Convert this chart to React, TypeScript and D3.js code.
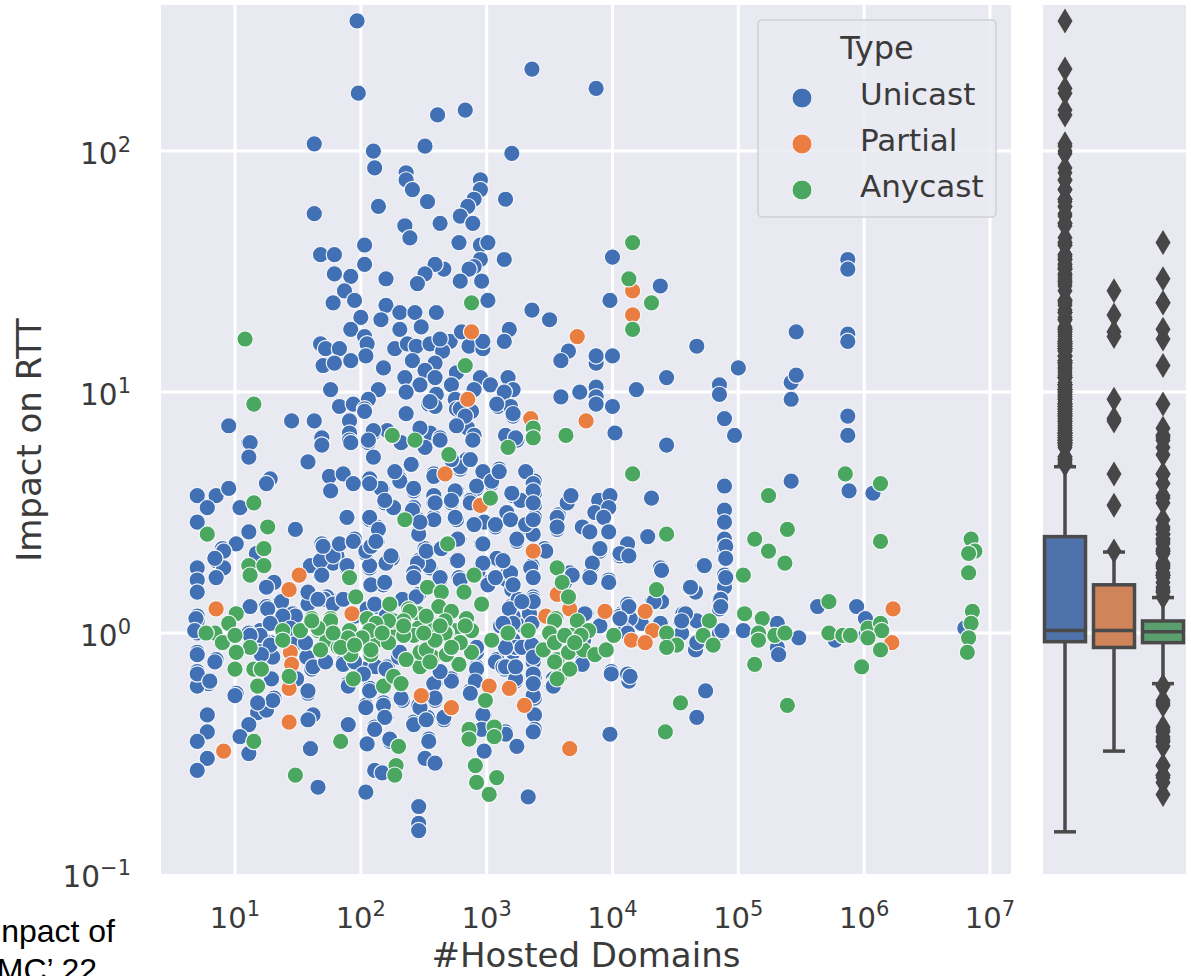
import React, { useEffect, useRef } from 'react';
import * as d3 from 'd3';

// every point is [log10(#hosted domains), log10(impact on RTT)]
const unicast: number[][] = [
  [1.97,2.54],[1.98,2.24],[3.36,2.34],[3.87,2.26],[2.61,2.15],[2.83,2.17],[1.63,2.03],[2.10,2.00],[2.51,2.02],[3.20,1.99],
  [2.11,1.93],[2.36,1.91],[2.36,1.88],[2.41,1.84],[2.95,1.88],[2.95,1.84],[2.90,1.80],[3.15,1.80],[2.53,1.79],[2.14,1.77],
  [1.63,1.74],[2.85,1.77],[2.79,1.73],[2.89,1.70],[2.63,1.70],[2.35,1.69],[2.39,1.64],[2.78,1.62],[2.95,1.61],[3.01,1.62],
  [2.03,1.61],[1.68,1.57],[1.79,1.57],[2.03,1.53],[3.14,1.55],[2.95,1.55],[2.90,1.52],[2.86,1.51],[2.66,1.51],[2.59,1.53],
  [2.51,1.49],[2.45,1.45],[2.20,1.47],[1.79,1.49],[1.92,1.48],[1.87,1.42],[2.79,1.46],[2.96,1.46],[1.78,1.37],[1.95,1.38],
  [3.01,1.38],[2.20,1.36],[2.16,1.30],[2.00,1.31],[2.31,1.33],[2.43,1.33],[2.60,1.33],[3.36,1.34],[3.50,1.30],[1.92,1.26],
  [2.31,1.26],[2.48,1.27],[2.03,1.23],[2.05,1.20],[2.04,1.15],[1.68,1.20],[1.72,1.18],[1.83,1.18],[1.70,1.11],[1.79,1.12],
  [1.92,1.13],[2.27,1.18],[2.37,1.20],[2.44,1.19],[2.55,1.20],[2.71,1.21],[2.65,1.17],[2.63,1.22],[2.80,1.25],[2.86,1.19],
  [2.97,1.18],[2.97,1.21],[3.18,1.26],[3.14,1.21],[2.41,1.13],[2.59,1.12],[2.51,1.09],[2.18,1.10],[2.76,1.08],[2.95,1.06],
  [2.59,1.06],[2.35,1.06],[3.17,1.06],[2.47,1.03],[2.72,1.03],[3.03,1.03],[3.21,1.01],[3.14,1.00],[2.90,1.01],[2.36,1.00],
  [2.14,1.01],[1.76,1.01],[2.60,0.99],[2.54,0.95],[2.59,0.94],[2.75,0.97],[2.06,0.97],[1.83,0.94],[1.94,0.95],[2.03,0.93],
  [2.76,0.93],[2.88,0.92],[3.09,0.94],[3.19,0.94],[3.21,0.90],[2.82,0.89],[2.78,0.87],[2.85,0.85],[2.90,0.82],[2.36,0.91],
  [1.91,0.88],[1.63,0.88],[1.45,0.88],[0.95,0.86],[1.91,0.83],[1.69,0.81],[1.11,0.79],[2.10,0.83],[2.21,0.84],[2.47,0.83],
  [2.55,0.83],[2.63,0.81],[3.15,0.82],[3.24,0.80],[1.91,0.80],[3.59,0.98],[3.74,1.00],[3.87,1.02],[3.87,0.98],[3.87,0.95],
  [4.00,0.94],[4.02,0.83],[3.87,1.12],[3.87,1.15],[4.00,1.15],[3.65,1.17],[3.59,1.13],[4.00,1.56],[3.98,1.38],[4.38,1.44],
  [4.67,1.19],[4.43,1.06],[4.19,1.01],[5.00,1.10],[4.85,1.03],[4.85,0.99],[4.89,0.89],[4.97,0.82],[5.46,1.25],[5.42,1.04],
  [5.46,1.07],[5.42,0.97],[5.87,1.55],[5.87,1.51],[5.87,1.24],[5.87,1.21],[5.87,0.90],[5.87,0.82],[4.43,0.78],[4.31,0.56],
  [4.89,0.61],[5.42,0.63],[4.89,0.51],[4.89,0.46],[4.89,0.39],[4.89,0.35],[4.89,0.31],[4.89,0.24],[4.89,0.19],[4.85,0.14],
  [4.85,0.10],[5.88,0.59],[6.07,0.58],[4.28,0.40],[4.12,0.37],[4.12,0.32],[4.07,0.32],[4.72,0.28],[4.38,0.27],[4.61,0.19],
  [4.66,0.17],[4.32,0.13],[4.39,0.13],[4.12,0.12],[5.63,0.11],[5.94,0.11],[6.01,0.06],[4.56,0.08],[4.54,0.05],[4.55,0.00],
  [4.85,0.00],[4.67,0.05],[5.04,0.01],[5.31,0.04],[5.48,-0.02],[5.31,-0.06],[5.32,-0.09],[4.66,-0.07],[4.67,-0.04],[4.39,0.04],
  [4.23,0.04],[4.14,0.06],[4.07,0.08],[4.10,0.01],[6.01,-0.01],[5.77,-0.03],[6.80,0.02],[4.13,-0.17],[4.13,-0.20],[4.74,-0.24],
  [4.67,-0.35],[1.12,0.79],[1.11,0.73],[1.58,0.71],[1.69,0.78],[1.92,0.79],[2.06,0.79],[2.10,0.73],[1.28,0.64],[1.25,0.62],
  [0.70,0.57],[0.85,0.57],[0.95,0.60],[0.78,0.52],[1.04,0.52],[0.70,0.46],[1.11,0.42],[1.48,0.43],[1.75,0.65],[1.86,0.66],
  [1.94,0.62],[1.76,0.59],[2.07,0.64],[2.17,0.60],[2.29,0.66],[2.31,0.64],[2.42,0.59],[2.41,0.70],[2.58,0.66],[2.79,0.68],
  [2.84,0.72],[2.98,0.66],[3.04,0.62],[3.10,0.68],[3.32,0.67],[3.38,0.63],[3.38,0.58],[3.26,0.55],[3.21,0.57],[3.38,0.53],
  [2.76,0.59],[2.92,0.60],[2.87,0.55],[2.58,0.57],[2.58,0.54],[2.72,0.54],[2.25,0.52],[2.19,0.54],[2.42,0.52],[1.89,0.48],
  [2.07,0.47],[2.13,0.44],[2.46,0.47],[2.58,0.48],[2.76,0.47],[2.46,0.42],[2.91,0.45],[2.98,0.46],[3.07,0.44],[3.18,0.47],
  [3.16,0.50],[3.31,0.44],[3.38,0.48],[3.56,0.43],[3.57,0.49],[3.64,0.54],[3.67,0.57],[3.37,0.41],[3.89,0.55],[3.98,0.57],
  [3.86,0.50],[3.97,0.52],[3.93,0.48],[3.76,0.44],[3.82,0.42],[3.97,0.42],[3.90,0.34],[4.06,0.32],[3.84,0.28],[3.82,0.24],
  [3.97,0.22],[1.69,0.37],[1.82,0.37],[1.95,0.39],[2.13,0.38],[2.09,0.36],[2.04,0.33],[1.81,0.32],[1.67,0.30],[1.59,0.28],
  [1.68,0.24],[1.78,0.29],[1.89,0.27],[2.07,0.27],[2.21,0.30],[2.25,0.31],[0.90,0.35],[1.01,0.37],[0.85,0.30],[0.91,0.27],
  [0.85,0.23],[0.70,0.27],[0.70,0.22],[0.70,0.17],[0.70,0.07],[0.70,0.05],[0.70,0.00],[0.70,-0.08],[0.85,-0.11],[0.70,-0.16],
  [0.79,-0.21],[0.70,-0.22],[1.01,-0.25],[0.78,-0.34],[0.78,-0.41],[0.70,-0.45],[0.78,-0.52],[0.70,-0.57],[1.17,0.33],[1.31,0.21],
  [1.25,0.19],[1.12,0.11],[1.25,0.11],[1.36,0.13],[1.58,0.16],[1.58,0.12],[1.78,0.13],[1.73,0.15],[2.09,0.20],[2.18,0.20],
  [2.42,0.24],[2.55,0.27],[2.46,0.30],[2.51,0.35],[2.63,0.35],[2.78,0.39],[2.76,0.30],[2.96,0.37],[3.10,0.30],[3.24,0.38],
  [3.47,0.35],[3.19,0.25],[3.36,0.27],[3.21,0.19],[3.16,0.22],[3.37,0.15],[3.19,0.10],[2.98,0.29],[2.93,0.25],[3.02,0.21],
  [2.63,0.22],[2.46,0.16],[2.13,0.11],[2.33,0.14],[1.38,0.06],[1.20,0.01],[1.28,-0.04],[1.30,-0.10],[1.29,-0.19],[1.31,-0.27],
  [1.18,-0.33],[1.25,-0.32],[1.11,-0.38],[1.04,-0.43],[1.11,-0.50],[1.58,-0.10],[1.61,-0.15],[1.58,-0.25],[1.62,-0.34],[1.58,-0.36],
  [1.60,-0.48],[1.90,-0.38],[1.66,-0.64],[2.04,-0.66],[1.86,-0.12],[2.02,-0.15],[2.21,-0.14],[1.90,-0.21],[2.07,-0.23],[2.04,-0.30],
  [2.18,-0.29],[2.33,-0.28],[2.20,-0.35],[2.11,-0.39],[2.23,-0.45],[2.05,-0.46],[2.11,-0.57],[2.17,-0.58],[2.42,-0.37],[2.53,-0.35],
  [2.66,-0.36],[2.54,-0.44],[2.51,-0.52],[2.59,-0.54],[2.59,-0.28],[2.46,-0.30],[2.63,-0.17],[2.72,-0.19],[2.59,-0.21],[2.92,-0.14],
  [2.87,-0.24],[2.91,-0.19],[3.08,-0.11],[3.14,-0.15],[3.24,-0.19],[3.38,-0.18],[3.38,-0.27],[3.38,-0.34],[3.38,-0.40],[2.98,-0.34],
  [2.98,-0.49],[3.15,-0.41],[3.24,-0.47],[3.33,-0.68],[2.46,-0.72],[2.46,-0.79],[2.46,-0.82],[3.98,-0.42],[3.99,-0.16],[4.12,-0.17],
  [3.21,0.07],[3.29,0.03],[3.39,-0.06],[3.11,0.03],[3.21,-0.03],[3.37,-0.12],[3.53,-0.19],[3.53,-0.21],[3.76,-0.12],[4.06,0.07],
  [4.12,0.12],[3.79,0.08],[2.84,0.03],[2.92,-0.08],[1.11,0.00],[1.23,-0.03],[1.46,0.08],[1.46,-0.06],
  // dense band, left side
  [0.91,0.34],[0.84,0.31],[1.60,0.28],[1.68,0.30],[1.69,0.24],[1.78,0.32],[1.83,0.37],[1.70,0.36],[1.94,0.38],[1.89,0.28],
  [1.58,0.17],[1.37,0.13],[1.26,0.10],[1.48,0.07],[1.38,0.07],[1.71,0.14],[1.78,0.12],[1.86,0.14],[1.28,0.04],[1.20,-0.01],
  [1.12,-0.01],[1.28,-0.05],[1.21,-0.09],[1.57,-0.10],[1.62,-0.14],[1.49,-0.19],[1.58,-0.24],[1.30,-0.28],[1.18,-0.29],[1.00,-0.26],
  [0.84,-0.12],[0.70,-0.09],[0.70,-0.17],[0.80,-0.20],[0.69,0.06],[0.68,0.01],[1.86,-0.13],[1.90,-0.22],[1.49,-0.04],[1.44,0.02],
  [1.56,-0.04],[1.66,0.14],[1.95,0.07],[2.05,0.10],[2.20,0.07],[2.30,-0.10],[1.72,-0.12],[1.95,-0.12],[2.12,-0.14],
  // dense column
  [2.10,0.84],[2.06,0.80],[2.36,0.91],[2.55,0.96],[2.03,0.92],[2.79,0.93],[3.08,0.95],[3.21,0.91],[2.89,0.80],[2.83,0.90],
  [2.76,0.86],[3.23,0.81],[2.47,0.85],[2.63,0.80],[2.51,0.77],[2.32,0.79],[2.40,0.70],[2.79,0.69],[2.72,0.72],[2.87,0.72],
  [2.58,0.65],[2.97,0.67],[2.31,0.63],[2.27,0.67],[2.16,0.60],[2.07,0.62],[2.42,0.60],[2.75,0.59],[2.92,0.61],[3.04,0.63],
  [3.10,0.67],[3.31,0.67],[3.37,0.62],[3.37,0.59],[3.27,0.55],[3.20,0.58],[3.37,0.54],[2.26,0.52],[2.19,0.55],[2.41,0.51],
  [2.59,0.54],[2.72,0.55],[2.87,0.54],[2.58,0.47],[2.75,0.48],[2.07,0.48],[2.14,0.43],[2.46,0.41],[2.47,0.46],[2.90,0.45],
  [3.07,0.45],[3.19,0.47],[3.31,0.45],[3.37,0.47],[3.56,0.48],[3.56,0.44],[2.97,0.37],[3.24,0.39],[3.46,0.35],[3.12,0.30],
  [3.36,0.28],[3.08,0.31],[2.97,0.29],[2.77,0.30],[2.54,0.28],[2.45,0.29],[2.52,0.34],[2.64,0.35],[2.77,0.39],[2.20,0.29],
  [2.24,0.32],[2.07,0.28],[2.04,0.34],[2.08,0.36],[2.12,0.38],[2.42,0.25],[3.17,0.25],[2.78,0.23],[2.63,0.23],
  // under and below the band
  [2.08,0.20],[2.19,0.21],[2.42,0.23],[2.79,0.22],[3.01,0.20],[3.20,0.18],[3.37,0.14],[3.19,0.11],[2.11,0.12],[2.44,0.15],
  [3.07,0.23],[3.37,0.23],[3.25,0.14],[3.34,0.08],[3.07,-0.12],[3.13,-0.14],[2.92,-0.15],[3.23,-0.20],[3.37,-0.17],[2.91,-0.20],
  [2.72,-0.20],[2.58,-0.21],[2.63,-0.16],[2.20,-0.15],[2.07,-0.24],[2.18,-0.30],[2.32,-0.27],[2.04,-0.31],[2.19,-0.35],[2.11,-0.40],
  [2.23,-0.44],[2.47,-0.31],[2.59,-0.27],[2.42,-0.38],[2.52,-0.36],[2.66,-0.35],[2.54,-0.45],[2.87,-0.25],[2.97,-0.34],[2.96,-0.40],
  [3.15,-0.42],[3.37,-0.26],[3.37,-0.41],[3.52,-0.22],[3.21,-0.08],[3.37,-0.08],[3.23,-0.06],[2.02,-0.17],[2.31,-0.08],[2.92,-0.06],
  [3.19,0.25],[3.21,0.20],[3.37,0.13],[3.18,0.10],[3.35,0.27],[3.37,0.23],[3.13,0.30],[3.28,0.13],[3.47,0.34],[3.66,0.25],
  [3.62,0.21],[3.84,0.29],[3.82,0.23],[3.90,0.35],[3.97,0.21],[4.06,0.33],[4.13,0.32],[4.13,0.11],[4.06,0.06],[3.78,0.08],
  [4.39,0.26],[4.73,0.28],[4.62,0.19],[4.90,0.36],[4.90,0.31],[4.90,0.23],[4.86,0.14],[4.86,0.11],[4.33,0.13],[4.58,0.08],
  [4.55,0.05],[4.38,0.04],[4.87,0.01],[3.76,-0.13],[3.99,-0.17],[4.14,-0.18],[3.37,-0.21],[3.23,-0.19],[3.15,-0.14],[3.23,-0.14],
  [3.53,-0.22],[3.28,-0.06],[3.36,-0.05],[3.15,-0.06],[3.37,-0.10],[3.36,0.04],[3.21,0.04],[3.13,0.04],[3.77,-0.03],[3.90,0.03],
  [4.12,0.00],[3.68,0.24],[3.68,-0.03],
];

const partial: number[][] = [
  [2.88,1.25],[2.85,0.97],[3.35,0.89],[3.79,0.88],[3.72,1.23],[4.16,1.42],[4.16,1.32],[2.67,0.66],[2.95,0.53],[1.51,0.24],
  [1.43,0.18],[0.85,0.10],[1.93,0.08],[3.37,0.34],[3.56,0.16],[3.66,0.10],[3.47,0.07],[3.94,0.09],[1.44,-0.08],[1.45,-0.13],
  [1.43,-0.23],[1.43,-0.37],[0.91,-0.49],[2.48,-0.26],[2.72,-0.31],[3.02,-0.22],[3.18,-0.23],[3.30,-0.30],[3.66,-0.48],[4.26,0.09],
  [4.32,0.01],[4.15,-0.03],[4.26,-0.04],[6.23,0.10],[6.22,-0.04],
];

const anycast: number[][] = [
  [1.08,1.22],[1.15,0.95],[2.88,1.37],[2.83,1.11],[2.25,0.82],[3.37,0.85],[3.37,0.81],[3.63,0.82],[2.43,0.80],[4.16,1.62],
  [4.13,1.47],[4.31,1.37],[4.16,1.26],[2.70,0.74],[3.17,0.77],[3.03,0.56],[2.35,0.47],[1.15,0.54],[1.26,0.44],[0.78,0.41],
  [1.23,0.35],[1.11,0.28],[1.23,0.28],[1.12,0.24],[2.69,0.37],[1.91,0.23],[1.96,0.15],[2.23,0.12],[2.53,0.19],[2.64,0.17],
  [2.82,0.17],[2.90,0.24],[2.96,0.12],[2.62,0.11],[2.72,0.09],[1.01,0.08],[0.95,0.04],[0.84,0.00],[0.77,0.00],[0.90,-0.04],
  [1.00,-0.01],[1.12,-0.06],[1.01,-0.08],[1.00,-0.15],[1.15,-0.15],[1.21,-0.15],[1.18,-0.22],[1.15,-0.45],[1.48,-0.59],[1.84,-0.45],
  [2.30,-0.47],[2.28,-0.55],[2.27,-0.59],[1.38,0.01],[1.38,-0.03],[1.43,-0.18],[1.52,0.01],[1.61,0.06],[1.66,0.01],[1.76,0.06],
  [1.73,-0.03],[1.68,-0.07],[1.82,-0.06],[1.86,-0.03],[1.91,0.01],[2.00,-0.03],[2.05,0.06],[2.13,-0.03],[1.92,-0.09],[2.08,-0.09],
  [1.94,-0.19],[2.18,-0.22],[2.26,-0.18],[2.32,-0.21],[2.37,-0.11],[2.47,-0.14],[2.47,-0.08],[2.57,-0.10],[2.78,-0.13],[2.28,0.00],
  [2.38,0.10],[2.46,0.08],[2.46,0.02],[2.58,0.03],[2.56,-0.03],[2.42,-0.01],[2.26,0.05],[2.14,0.03],[2.74,0.01],[2.84,0.06],
  [2.88,0.01],[2.78,-0.04],[2.88,-0.08],[2.68,0.00],[3.04,-0.03],[3.17,0.00],[3.33,0.01],[3.55,0.06],[3.56,0.27],[3.60,0.21],
  [3.65,0.15],[3.45,-0.07],[3.56,-0.03],[3.56,-0.11],[3.58,-0.18],[3.66,-0.15],[3.65,-0.08],[3.72,0.05],[3.81,0.01],[3.77,-0.07],
  [3.86,-0.09],[3.95,-0.07],[4.01,-0.01],[3.67,-0.01],[3.75,-0.01],[2.86,-0.40],[2.86,-0.44],[3.06,-0.39],[3.06,-0.43],[2.99,-0.28],
  [2.91,-0.55],[2.92,-0.62],[3.08,-0.60],[3.02,-0.67],[4.16,0.66],[4.35,0.18],[4.43,0.41],[5.24,0.57],[5.39,0.43],[5.13,0.39],
  [5.24,0.34],[5.37,0.29],[5.04,0.24],[6.13,0.62],[5.85,0.66],[6.13,0.38],[6.85,0.39],[6.88,0.34],[6.83,0.33],[6.83,0.25],
  [6.86,0.09],[6.85,0.04],[6.83,-0.02],[6.82,-0.08],[5.72,0.13],[5.05,0.08],[5.19,0.06],[5.16,0.00],[5.16,-0.03],[5.29,-0.01],
  [5.37,0.00],[5.13,-0.13],[5.39,-0.30],[5.72,0.00],[5.83,-0.01],[5.89,-0.01],[6.03,0.02],[6.13,0.04],[6.14,0.01],[6.03,-0.02],
  [6.13,-0.07],[5.98,-0.14],[4.77,0.05],[4.72,-0.01],[4.80,-0.05],[4.43,0.00],[4.51,-0.05],[4.43,-0.06],[4.54,-0.29],[4.42,-0.41],
  // thick part of the band
  [2.39,0.09],[2.34,0.05],[2.22,0.05],[2.12,0.04],[2.07,0.01],[2.34,-0.01],[2.22,-0.04],[2.01,-0.02],[2.52,0.07],[2.67,0.05],
  [2.67,0.00],[2.52,-0.07],[2.68,-0.09],[2.59,-0.03],[2.79,-0.04],[2.08,-0.07],[2.36,-0.11],[3.54,0.05],[3.50,0.00],[3.54,-0.04],
  [3.54,-0.12],[3.56,-0.19],[1.90,-0.02],[1.84,-0.06],[1.76,0.05],[1.66,0.02],[1.61,0.05],[2.17,0.00],[2.34,0.03],[2.50,0.00],
  [2.63,0.03],[2.83,0.03],[2.72,-0.06],[2.55,-0.12],[1.95,-0.05],[1.78,0.00],[3.62,-0.01],[3.70,-0.04],
];

const typeNames = ['Unicast', 'Partial', 'Anycast'];
const pointColors = ['#4170B4', '#E97E40', '#4AA760'];
const boxColors = ['#4F72AA', '#D0845A', '#5AA06E'];
const seriesList = [unicast, partial, anycast];

// box stats as log10(impact): lower whisker, q1, median, q3, upper whisker
const boxStats = [
  [-0.825, -0.036, 0.01, 0.40, 0.69],
  [-0.49, -0.06, 0.01, 0.20, 0.336],
  [-0.21, -0.04, 0.005, 0.05, 0.147],
];

const xTicks = [1, 2, 3, 4, 5, 6, 7];
const yTicks = [-1, 0, 1, 2];

const FONT = '"DejaVu Sans", sans-serif';
const INK = '#3A3A3A';

const App = () => {
  const ref = useRef<SVGSVGElement>(null);

  useEffect(() => {
    const svg = d3.select(ref.current);
    svg.selectAll('*').remove();

    const x = d3.scaleLog().domain([Math.pow(10, 0.412), Math.pow(10, 7.167)]).range([161, 1011]);
    const y = d3.scaleLog().domain([0.1, Math.pow(10, 2.606)]).range([874, 5]);
    const box = d3.scaleBand<string>().domain(typeNames).range([1040.5, 1187.5]).paddingInner(0.122).paddingOuter(0.061);

    // panels
    svg.append('rect').attr('x', 161).attr('y', 5).attr('width', 850).attr('height', 869).attr('fill', '#E9E9F2');
    svg.append('rect').attr('x', 1043).attr('y', 5).attr('width', 143).attr('height', 869).attr('fill', '#E9E9F2');

    // grid
    const grid = svg.append('g').attr('stroke', '#fff').attr('stroke-width', 3);
    xTicks.forEach(t => {
      grid.append('line').attr('x1', x(10 ** t)).attr('x2', x(10 ** t)).attr('y1', 5).attr('y2', 874);
    });
    yTicks.filter(t => t > -1).forEach(t => {
      grid.append('line').attr('x1', 161).attr('x2', 1011).attr('y1', y(10 ** t)).attr('y2', y(10 ** t));
      grid.append('line').attr('x1', 1043).attr('x2', 1186).attr('y1', y(10 ** t)).attr('y2', y(10 ** t));
    });

    // tick labels
    const power = (g: any, e: number) => {
      g.append('tspan').text('10');
      g.append('tspan').attr('font-size', 21).attr('dy', -12).text(String(e).replace('-', '\u2212'));
    };
    xTicks.forEach(t => {
      const label = svg.append('text').attr('x', x(10 ** t)).attr('y', 928).attr('text-anchor', 'middle')
        .attr('font-family', FONT).attr('font-size', 29).attr('fill', INK);
      power(label, t);
    });
    yTicks.forEach(t => {
      const label = svg.append('text').attr('x', 131).attr('y', y(10 ** t) + 13).attr('text-anchor', 'end')
        .attr('font-family', FONT).attr('font-size', 29.5).attr('fill', INK);
      power(label, t);
    });

    // axis titles
    svg.append('text').attr('x', 586).attr('y', 967).attr('text-anchor', 'middle')
      .attr('font-family', FONT).attr('font-size', 34).attr('fill', INK).text('#Hosted Domains');
    svg.append('text').attr('transform', 'translate(41,440) rotate(-90)').attr('text-anchor', 'middle')
      .attr('font-family', FONT).attr('font-size', 34).attr('fill', INK).text('Impact on RTT');

    // scatter
    seriesList.forEach((points, i) => {
      svg.append('g').selectAll('circle').data(points).enter().append('circle')
        .attr('cx', d => x(10 ** d[0]))
        .attr('cy', d => y(10 ** d[1]))
        .attr('r', 8.2)
        .attr('fill', pointColors[i])
        .attr('stroke', '#F6F7FA')
        .attr('stroke-width', 1.2);
    });

    // side box plots, fliers come from the same points
    const diamond = (cx: number, cy: number) => `M${cx},${cy - 12.5}L${cx + 7.5},${cy}L${cx},${cy + 12.5}L${cx - 7.5},${cy}Z`;
    typeNames.forEach((name, i) => {
      const [lo, q1, med, q3, hi] = boxStats[i];
      const left = box(name)!;
      const w = box.bandwidth();
      const cx = left + w / 2;
      const g = svg.append('g').attr('stroke', '#4A4A4A').attr('stroke-width', 3.5).attr('fill', 'none');
      const fliers = seriesList[i].map(d => d[1]).filter(v => v > hi || v < lo);
      svg.append('g').selectAll('path').data(fliers).enter().append('path')
        .attr('d', v => diamond(cx, y(10 ** v)))
        .attr('fill', '#474747');
      g.append('line').attr('x1', cx).attr('x2', cx).attr('y1', y(10 ** q3)).attr('y2', y(10 ** hi));
      g.append('line').attr('x1', cx).attr('x2', cx).attr('y1', y(10 ** q1)).attr('y2', y(10 ** lo));
      g.append('line').attr('x1', cx - 11).attr('x2', cx + 11).attr('y1', y(10 ** hi)).attr('y2', y(10 ** hi));
      g.append('line').attr('x1', cx - 11).attr('x2', cx + 11).attr('y1', y(10 ** lo)).attr('y2', y(10 ** lo));
      g.append('rect').attr('x', left + 1).attr('width', w - 2).attr('y', y(10 ** q3))
        .attr('height', y(10 ** q1) - y(10 ** q3)).attr('fill', boxColors[i]);
      g.append('line').attr('x1', left + 1).attr('x2', left + w - 1).attr('y1', y(10 ** med)).attr('y2', y(10 ** med));
    });

    // legend
    const legend = svg.append('g').attr('font-family', FONT).attr('fill', INK);
    legend.append('rect').attr('x', 758).attr('y', 20).attr('width', 238).attr('height', 197).attr('rx', 4)
      .attr('fill', 'rgba(234,234,242,0.85)').attr('stroke', '#CFCFD6').attr('stroke-width', 1.5);
    legend.append('text').attr('x', 877).attr('y', 59).attr('text-anchor', 'middle').attr('font-size', 32).text('Type');
    typeNames.forEach((name, i) => {
      const cy = 98 + i * 46;
      legend.append('circle').attr('cx', 802).attr('cy', cy).attr('r', 10).attr('fill', pointColors[i])
        .attr('stroke', '#F6F7FA').attr('stroke-width', 1);
      legend.append('text').attr('x', 860).attr('y', cy + 7).attr('font-size', 31).text(name);
    });

    // slide caption cut off by the crop
    svg.append('text').attr('x', 115).attr('y', 942).attr('text-anchor', 'end')
      .attr('font-family', '"Liberation Sans", Arial, sans-serif').attr('font-size', 32).attr('fill', '#000').text('npact of');
    svg.append('text').attr('x', 97).attr('y', 981).attr('text-anchor', 'end')
      .attr('font-family', '"Liberation Sans", Arial, sans-serif').attr('font-size', 32).attr('fill', '#000').text('MC\u2019 22');
  }, []);

  return (
    <svg ref={ref} width={1191} height={976}
      style={{ position: 'absolute', left: 0, top: 0, background: '#fff', display: 'block' }} />
  );
};

export default App;
